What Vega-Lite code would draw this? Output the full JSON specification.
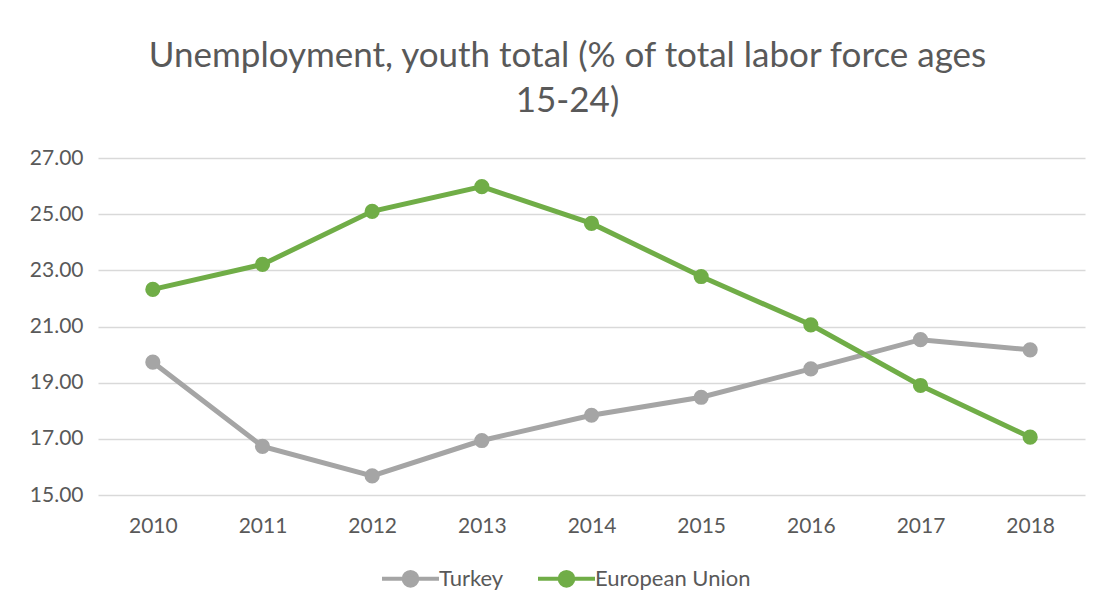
{
  "$schema": "https://vega.github.io/schema/vega-lite/v6.json",
  "width": 987,
  "height": 337,
  "autosize": {"type": "none"},
  "padding": {"left": 98, "top": 158, "right": 17, "bottom": 114},
  "background": "white",
  "title": {
    "text": ["Unemployment, youth total (% of total labor force ages", "15-24)"],
    "font": "Lato",
    "fontSize": 35,
    "fontWeight": "normal",
    "color": "#595959",
    "lineHeight": 45,
    "anchor": "middle",
    "dx": -24,
    "offset": 28
  },
  "data": {
    "values": [
      {"year": "2010", "series": "Turkey", "value": 19.73},
      {"year": "2011", "series": "Turkey", "value": 16.73},
      {"year": "2012", "series": "Turkey", "value": 15.68},
      {"year": "2013", "series": "Turkey", "value": 16.94},
      {"year": "2014", "series": "Turkey", "value": 17.84},
      {"year": "2015", "series": "Turkey", "value": 18.48},
      {"year": "2016", "series": "Turkey", "value": 19.49},
      {"year": "2017", "series": "Turkey", "value": 20.53},
      {"year": "2018", "series": "Turkey", "value": 20.17},
      {"year": "2010", "series": "European Union", "value": 22.32},
      {"year": "2011", "series": "European Union", "value": 23.21},
      {"year": "2012", "series": "European Union", "value": 25.10},
      {"year": "2013", "series": "European Union", "value": 25.98},
      {"year": "2014", "series": "European Union", "value": 24.67},
      {"year": "2015", "series": "European Union", "value": 22.78},
      {"year": "2016", "series": "European Union", "value": 21.06},
      {"year": "2017", "series": "European Union", "value": 18.90},
      {"year": "2018", "series": "European Union", "value": 17.06}
    ]
  },
  "encoding": {
    "x": {
      "field": "year",
      "type": "ordinal",
      "scale": {"type": "point", "padding": 0.5},
      "axis": {
        "title": null,
        "labelAngle": 0,
        "labelFont": "Lato",
        "labelFontSize": 21,
        "labelColor": "#595959",
        "labelPadding": 20,
        "ticks": false,
        "domain": false,
        "grid": false
      }
    },
    "y": {
      "field": "value",
      "type": "quantitative",
      "scale": {"domain": [15, 27], "nice": false, "zero": false},
      "axis": {
        "title": null,
        "values": [15, 17, 19, 21, 23, 25, 27],
        "format": ".2f",
        "labelFont": "Lato",
        "labelFontSize": 21,
        "labelColor": "#595959",
        "labelPadding": 15,
        "ticks": false,
        "domain": false,
        "grid": true,
        "gridColor": "#d9d9d9",
        "gridWidth": 1.3
      }
    },
    "color": {
      "field": "series",
      "type": "nominal",
      "scale": {"domain": ["Turkey", "European Union"], "range": ["#a5a5a5", "#70ad47"]},
      "legend": {
        "title": null,
        "orient": "none",
        "direction": "horizontal",
        "legendX": 282,
        "legendY": 390,
        "labelFont": "Lato",
        "labelFontSize": 22,
        "labelColor": "#595959",
        "labelOffset": -2,
        "columnPadding": 26,
        "symbolType": "M -1 0 L 1 0 M 0.24 0 A 0.24 0.24 0 1 1 -0.24 0 A 0.24 0.24 0 1 1 0.24 0 Z",
        "symbolSize": 3249,
        "symbolStrokeWidth": 4,
        "encode": {
          "symbols": {
            "update": {
              "fill": {"scale": "color", "field": "value"},
              "stroke": {"scale": "color", "field": "value"},
              "strokeWidth": {"value": 4},
              "opacity": {"value": 1}
            }
          }
        }
      }
    }
  },
  "layer": [
    {"mark": {"type": "line", "strokeWidth": 5, "strokeCap": "round"}},
    {"mark": {"type": "point", "filled": true, "size": 230, "opacity": 1, "shape": "circle"}}
  ],
  "config": {"view": {"stroke": null}}
}
